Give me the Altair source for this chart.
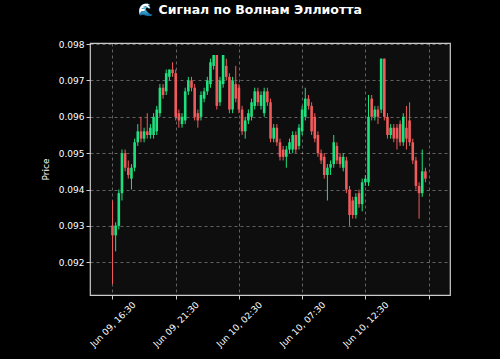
import altair as alt
import pandas as pd

# 15-minute candles starting Jun 09 16:30 (UTC)
opens = [0.09301, 0.09274, 0.0930, 0.0939, 0.0950, 0.0946, 0.0943, 0.0946, 0.0953, 0.0956,
         0.0954, 0.0956, 0.0955, 0.0955, 0.0956, 0.0961, 0.0968, 0.0967, 0.0971, 0.0973,
         0.0972, 0.0961, 0.0958, 0.0959, 0.0967, 0.0970, 0.0968, 0.0961, 0.0960, 0.0965,
         0.0967, 0.0969, 0.0974, 0.0977, 0.0964, 0.0969, 0.0974, 0.0971, 0.0962, 0.0969,
         0.0968, 0.0962, 0.0956, 0.0959, 0.0960, 0.0963, 0.0967, 0.0963, 0.0961, 0.0967,
         0.0964, 0.0954, 0.0957, 0.0953, 0.0951, 0.0949, 0.0951, 0.0951, 0.0955, 0.0952,
         0.0956, 0.0960, 0.0965, 0.0963, 0.0960, 0.0955, 0.0950, 0.0949, 0.0944, 0.0946,
         0.0947, 0.0952, 0.0949, 0.0946, 0.0948, 0.0940, 0.0937, 0.0933, 0.0939, 0.0936,
         0.0942, 0.0942, 0.0965, 0.0960, 0.0962, 0.0962, 0.0976, 0.0960, 0.0955, 0.0957,
         0.0957, 0.0958, 0.0953, 0.0957, 0.0959, 0.0953, 0.0948, 0.0941, 0.0939, 0.0945]
closes = [0.09274, 0.09301, 0.0939, 0.0950, 0.0946, 0.0944, 0.0946, 0.0953, 0.0956, 0.0954,
          0.0956, 0.0955, 0.0957, 0.0960, 0.0962, 0.0968, 0.0966, 0.0972, 0.0973, 0.0972,
          0.0960, 0.0959, 0.0960, 0.0967, 0.0970, 0.0968, 0.0960, 0.0959, 0.0966, 0.0967,
          0.0970, 0.0975, 0.0977, 0.0963, 0.0970, 0.0977, 0.0971, 0.0962, 0.0970, 0.0965,
          0.0962, 0.0956, 0.0959, 0.0961, 0.0964, 0.0967, 0.0964, 0.0966, 0.0967, 0.0964,
          0.0954, 0.0957, 0.0953, 0.0949, 0.0949, 0.0951, 0.0953, 0.0955, 0.0951, 0.0957,
          0.0962, 0.0965, 0.0963, 0.0956, 0.0954, 0.0950, 0.0948, 0.0944, 0.0946, 0.0947,
          0.0953, 0.0948, 0.0947, 0.0949, 0.0940, 0.0933, 0.0933, 0.0938, 0.0936, 0.0942,
          0.0943, 0.0960, 0.0960, 0.0962, 0.0960, 0.0976, 0.0960, 0.0955, 0.0957, 0.0954,
          0.0954, 0.0953, 0.0960, 0.0954, 0.0953, 0.0948, 0.0941, 0.0939, 0.0945, 0.0943]
highs = [0.0937, 0.0931, 0.0940, 0.0951, 0.0951, 0.0948, 0.0947, 0.0954, 0.0958, 0.0960,
         0.0957, 0.0961, 0.0958, 0.0961, 0.0963, 0.0969, 0.0969, 0.0973, 0.0973, 0.0975,
         0.0973, 0.0962, 0.0961, 0.0968, 0.0971, 0.0971, 0.0969, 0.0962, 0.0967, 0.0968,
         0.0971, 0.0976, 0.0977, 0.0977, 0.0971, 0.0977, 0.0976, 0.0972, 0.0971, 0.0974,
         0.0969, 0.0963, 0.0960, 0.0962, 0.0965, 0.0968, 0.0968, 0.0967, 0.0968, 0.0968,
         0.0965, 0.0958, 0.0958, 0.0954, 0.0952, 0.0952, 0.0954, 0.0956, 0.0956, 0.0958,
         0.0963, 0.0968, 0.0966, 0.0964, 0.0961, 0.0956, 0.0951, 0.0950, 0.0947, 0.0948,
         0.0955, 0.0953, 0.0950, 0.0950, 0.0949, 0.0941, 0.0938, 0.0939, 0.0940, 0.0943,
         0.0944, 0.0966, 0.0966, 0.0963, 0.0963, 0.0976, 0.0976, 0.0961, 0.0958, 0.0958,
         0.0958, 0.0959, 0.0961, 0.0963, 0.0964, 0.0954, 0.0949, 0.0942, 0.0951, 0.0946]
lows = [0.0914, 0.0923, 0.0929, 0.0937, 0.0945, 0.0943, 0.0940, 0.0945, 0.0952, 0.0953,
        0.0953, 0.0954, 0.0954, 0.0954, 0.0955, 0.0960, 0.0965, 0.0966, 0.0970, 0.0971,
        0.0959, 0.0957, 0.0957, 0.0958, 0.0966, 0.0967, 0.0959, 0.0957, 0.0959, 0.0964,
        0.0966, 0.0968, 0.0973, 0.0962, 0.0963, 0.0968, 0.0970, 0.0961, 0.0961, 0.0964,
        0.0961, 0.0955, 0.0954, 0.0958, 0.0959, 0.0962, 0.0963, 0.0962, 0.0960, 0.0963,
        0.0953, 0.0953, 0.0952, 0.0948, 0.0948, 0.0946, 0.0950, 0.0950, 0.0950, 0.0951,
        0.0955, 0.0959, 0.0962, 0.0955, 0.0953, 0.0949, 0.0947, 0.0943, 0.0937, 0.0944,
        0.0946, 0.0947, 0.0946, 0.0945, 0.0939, 0.0930, 0.0932, 0.0932, 0.0935, 0.0934,
        0.0941, 0.0941, 0.0959, 0.0959, 0.0958, 0.0961, 0.0959, 0.0954, 0.0954, 0.0953,
        0.0951, 0.0952, 0.0952, 0.0951, 0.0952, 0.0947, 0.0940, 0.0932, 0.0938, 0.0942]

times = pd.date_range("2025-06-09 16:30", periods=len(opens), freq="15min")
df = pd.DataFrame({
    "t": [t.strftime("%Y-%m-%dT%H:%M:%SZ") for t in times],
    "open": opens, "close": closes, "high": highs, "low": lows,
})
df["dir"] = ["up" if c >= o else "down" for o, c in zip(opens, closes)]

tick_times = [(9, 16), (9, 21), (10, 2), (10, 7), (10, 12), (10, 17)]
tick_vals = [alt.DateTime(year=2025, month=6, date=d, hours=h, minutes=30, utc=True) for d, h in tick_times]
x_dom = [alt.DateTime(year=2025, month=6, date=9, hours=15, minutes=7, utc=True),
         alt.DateTime(year=2025, month=6, date=10, hours=18, minutes=48, utc=True)]

color = alt.Color("dir:N", scale=alt.Scale(domain=["up", "down"], range=["#1fe07f", "#f05a5a"]), legend=None)

x = alt.X("t:T", scale=alt.Scale(type="utc", domain=x_dom),
          axis=alt.Axis(values=tick_vals,
                        labelExpr="datum.index == 1 ? '' : utcFormat(datum.value, '%b %d, %H:%M')",
                        labelAngle=315, labelAlign="center", labelBaseline="middle",
                        labelColor="white", labelFontSize=9, labelPadding=25,
                        tickColor="#cccccc", tickSize=4, domain=False,
                        grid=True, gridColor="#ffffff", gridOpacity=0.35, gridDash=[3, 3],
                        title=None))
y_scale = alt.Scale(domain=[0.09110, 0.09803], nice=False, zero=False)
y_axis = alt.Axis(values=[0.092, 0.093, 0.094, 0.095, 0.096, 0.097, 0.098], format=".3f",
                  labelColor="white", labelFontSize=9, tickColor="#cccccc", tickSize=4,
                  domain=False, grid=True, gridColor="#ffffff", gridOpacity=0.35, gridDash=[3, 3],
                  title="Price", titleColor="white", titleFontSize=9, titleFontWeight="normal",
                  titlePadding=8)

base = alt.Chart(df)
wicks = base.mark_rule(strokeWidth=1).encode(
    x=x, y=alt.Y("low:Q", scale=y_scale, axis=y_axis), y2="high:Q", color=color)
bodies = base.mark_bar(size=2.6).encode(
    x="t:T", y="open:Q", y2="close:Q", color=color)

chart = (wicks + bodies).properties(
    width=360, height=252,
    background="#000000",
    padding={"left": 90, "top": 43, "right": 50, "bottom": 64},
    autosize=alt.AutoSizeParams(type="none"),
    title=alt.TitleParams("🌊 Сигнал по Волнам Эллиотта", color="white", fontSize=12.5,
                          fontWeight="bold", font="DejaVu Sans", anchor="middle",
                          offset=24, dx=-20),
).configure_view(fill="#0e0e0e", stroke="#cccccc", strokeWidth=1.2).configure_axis(
    labelFont="DejaVu Sans", titleFont="DejaVu Sans")

chart.save("out.html", embed_options={"renderer": "svg", "actions": False})
